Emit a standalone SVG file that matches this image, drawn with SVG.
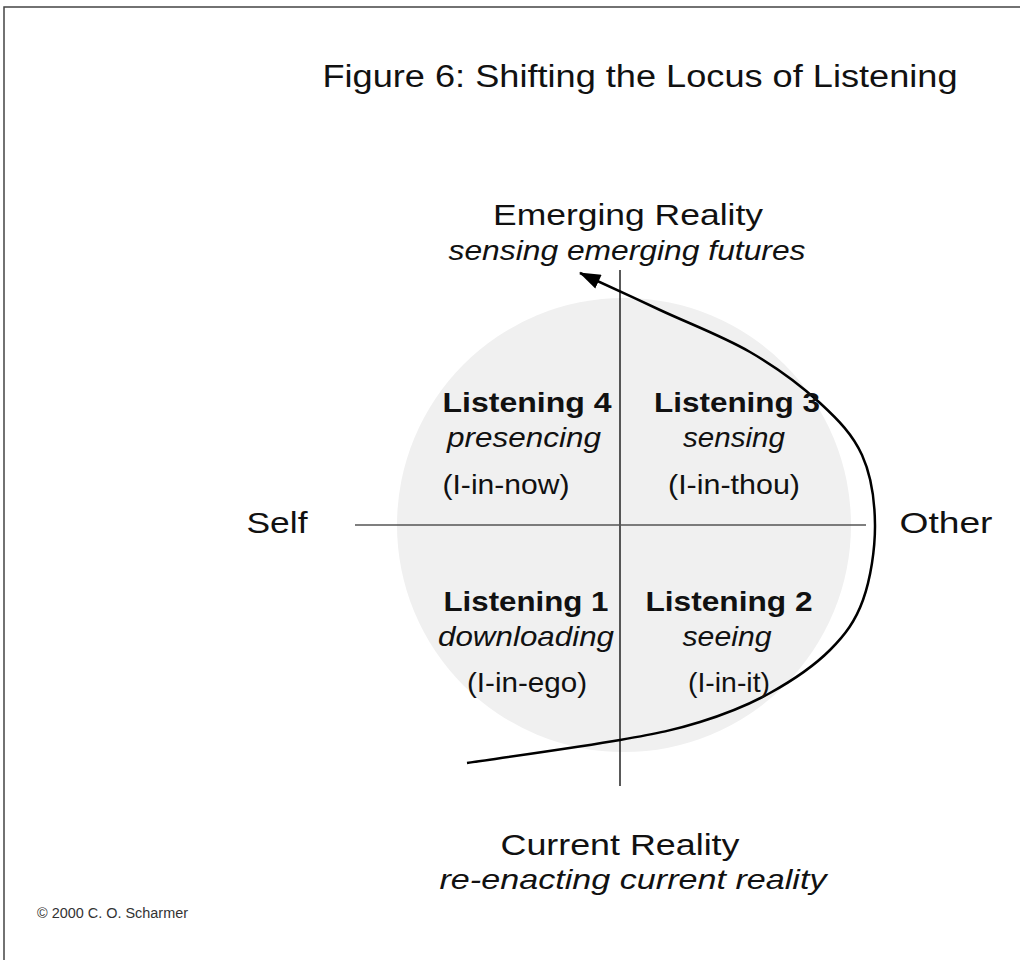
<svg xmlns="http://www.w3.org/2000/svg" width="1020" height="960" viewBox="0 0 1020 960">
<defs>
<style>
text{font-family:"Liberation Sans",Arial,sans-serif;fill:#111;text-anchor:middle}
.big{font-size:30px}
.lab{font-size:28px}
.b{font-weight:bold}
.i{font-style:italic}
.ax{stroke:#222;stroke-width:1.5;fill:none}
</style>
<marker id="ah2" viewBox="0 0 20 14" refX="19" refY="7" markerWidth="22" markerHeight="15" markerUnits="userSpaceOnUse" orient="auto"><path d="M0,0 L20,7 L0,14 z" fill="#000"/></marker>
</defs>
<rect width="1020" height="960" fill="#fff"/>
<path d="M4,960 V7 H1020" fill="none" stroke="#444" stroke-width="1.5"/>
<text x="640" y="87" style="font-size:31px" textLength="635" lengthAdjust="spacingAndGlyphs">Figure 6: Shifting the Locus of Listening</text>
<circle cx="624" cy="525" r="227" fill="#f0f0f0"/>
<g id="connectors">
<line class="ax" x1="620" y1="270" x2="620" y2="786"/>
<line x1="355" y1="525" x2="866" y2="525" stroke="#555" stroke-width="1.5"/>
<path d="M467,763 C492.5,759.2 581.2,746.8 620,740 C658.8,733.2 675,729.8 700,722 C725,714.2 748.3,705 770,693 C791.7,681 814.5,665.5 830,650 C845.5,634.5 855.5,620.8 863,600 C870.5,579.2 875.2,549.2 875,525 C874.8,500.8 871.2,475.3 862,455 C852.8,434.7 838.7,420.2 820,403 C801.3,385.8 776.7,367.5 750,352 C723.3,336.5 688.3,323.2 660,310 C631.7,296.8 593.3,279.2 580,273" fill="none" stroke="#000" stroke-width="2.5" marker-end="url(#ah2)"/>
</g>
<g id="emerging"><text class="big" x="628" y="225" textLength="270" lengthAdjust="spacingAndGlyphs">Emerging Reality</text><text class="lab i" x="627" y="260" textLength="357" lengthAdjust="spacingAndGlyphs">sensing emerging futures</text></g>
<g id="current"><text class="big" x="620" y="855" textLength="239" lengthAdjust="spacingAndGlyphs">Current Reality</text><text class="lab i" x="633" y="889" textLength="387" lengthAdjust="spacingAndGlyphs">re-enacting current reality</text></g>
<g id="self"><text class="big" x="277" y="533" textLength="61" lengthAdjust="spacingAndGlyphs">Self</text></g>
<g id="other"><text class="big" x="946" y="533" textLength="93" lengthAdjust="spacingAndGlyphs">Other</text></g>
<g id="l4"><text class="lab b" x="527" y="412" textLength="169" lengthAdjust="spacingAndGlyphs">Listening 4</text><text class="lab i" x="524" y="447" textLength="154" lengthAdjust="spacingAndGlyphs">presencing</text><text class="lab" x="506" y="494" textLength="127" lengthAdjust="spacingAndGlyphs">(I-in-now)</text></g>
<g id="l3"><text class="lab b" x="737" y="412" textLength="166" lengthAdjust="spacingAndGlyphs">Listening 3</text><text class="lab i" x="734" y="447" textLength="102" lengthAdjust="spacingAndGlyphs">sensing</text><text class="lab" x="734" y="494" textLength="132" lengthAdjust="spacingAndGlyphs">(I-in-thou)</text></g>
<g id="l1"><text class="lab b" x="526" y="611" textLength="165" lengthAdjust="spacingAndGlyphs">Listening 1</text><text class="lab i" x="526" y="646" textLength="176" lengthAdjust="spacingAndGlyphs">downloading</text><text class="lab" x="527" y="692" textLength="120" lengthAdjust="spacingAndGlyphs">(I-in-ego)</text></g>
<g id="l2"><text class="lab b" x="729" y="611" textLength="167" lengthAdjust="spacingAndGlyphs">Listening 2</text><text class="lab i" x="727" y="646" textLength="89" lengthAdjust="spacingAndGlyphs">seeing</text><text class="lab" x="729" y="692" textLength="82" lengthAdjust="spacingAndGlyphs">(I-in-it)</text></g>
<text x="37" y="918" style="font-size:14px;text-anchor:start;fill:#333" textLength="151" lengthAdjust="spacingAndGlyphs">© 2000  C. O. Scharmer</text>
</svg>
